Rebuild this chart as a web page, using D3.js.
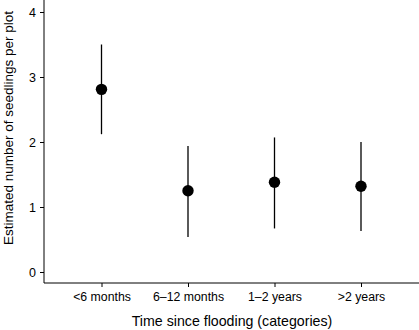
<!DOCTYPE html>
<html>
<head>
<meta charset="utf-8">
<script src="https://cdn.jsdelivr.net/npm/d3@7"></script>
<style>
  body { margin: 0; background: #fff; }
  text { font-family: "Liberation Sans", Arial, sans-serif; fill: #000; }
</style>
</head>
<body>
<div id="chart"></div>
<script>
// categories and estimates
var categories = ["<6 months", "6\u201312 months", "1\u20132 years", ">2 years"];
var estimate = [2.81, 1.25, 1.38, 1.32];
var lower = [2.12, 0.54, 0.67, 0.63];
var upper = [3.50, 1.94, 2.07, 2.00];
var yTicks = [0, 1, 2, 3, 4];

var W = 419, H = 330;
var svg = d3.select("#chart").append("svg")
    .attr("width", W)
    .attr("height", H);

// x as a point scale between the axis line and the right edge
var x = d3.scalePoint()
  .domain(categories)
  .range([101.5, 361])
  ;

var y = d3.scaleLinear()
  .domain([0, 4])
  .range([272, 12]);

// y axis
var yAxis = svg.append("g")
  .attr("transform", "translate(44,0)")
  .call(d3.axisLeft(y).tickValues(yTicks).tickSize(4).tickPadding(4).tickFormat(d3.format("d")));
yAxis.select(".domain").attr("d", "M0,0V283").attr("stroke", "#000");
yAxis.selectAll("text").style("font-size", "12.5px");

// x axis
var xAxis = svg.append("g")
  .attr("transform", "translate(0,283)")
  .call(d3.axisBottom(x).tickSize(4).tickPadding(5));
xAxis.select(".domain").attr("d", "M44,0H419").attr("stroke", "#000");
xAxis.selectAll("text").style("font-size", "12.3px");

// axis titles
svg.append("text")
  .attr("x", 232)
  .attr("y", 325.5)
  .attr("text-anchor", "middle")
  .style("font-size", "14.2px")
  .text("Time since flooding (categories)");

svg.append("text")
  .attr("transform", "translate(12.5,128) rotate(-90)")
  .attr("text-anchor", "middle")
  .style("font-size", "13.5px")
  .text("Estimated number of seedlings per plot");

// error bars
svg.selectAll(".bar")
  .data(categories)
  .join("line")
  .attr("class", "bar")
  .attr("x1", d => x(d))
  .attr("x2", d => x(d))
  .attr("y1", (d, i) => y(lower[i]))
  .attr("y2", (d, i) => y(upper[i]))
  .attr("stroke", "#000")
  .attr("stroke-width", 1.3);

// points
svg.selectAll(".pt")
  .data(categories)
  .join("circle")
  .attr("class", "pt")
  .attr("cx", d => x(d))
  .attr("cy", (d, i) => y(estimate[i]))
  .attr("r", 5.7)
  .attr("fill", "#000");
</script>
</body>
</html>
